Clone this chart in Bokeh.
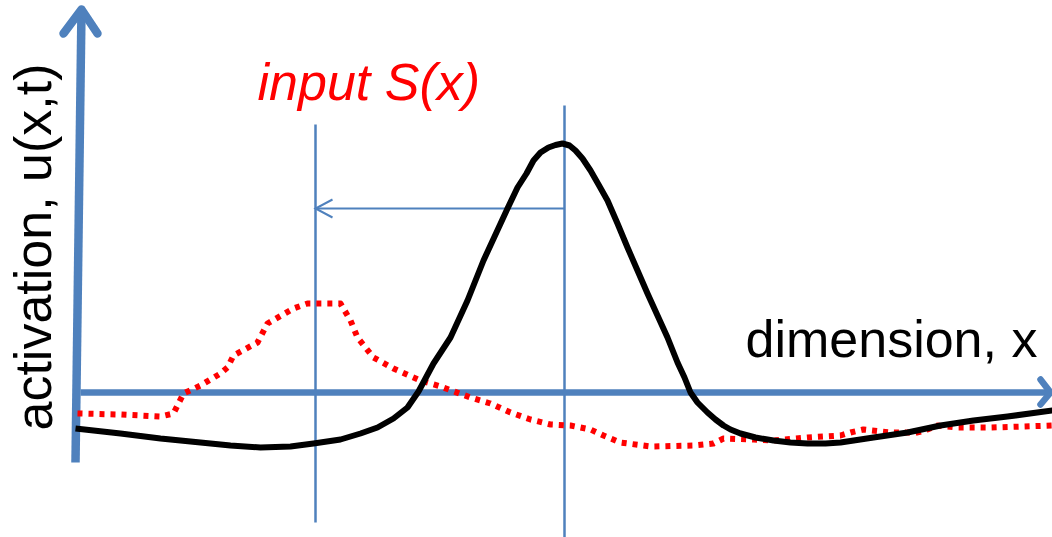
from bokeh.plotting import figure
from bokeh.models import Range1d
from bokeh.core.properties import value
from bokeh.embed import file_html
from bokeh.resources import INLINE

# Field positions along the dimension axis and values (activation axis at 0)
act_x = [75, 120, 160, 200, 230, 260, 290, 313, 340, 360, 377, 393, 407, 418,
         433, 450, 467, 483, 495, 507, 517, 526, 533, 540, 548, 555, 562,
         569, 575, 582, 590, 598, 607, 617, 627, 637, 647, 657, 667, 677,
         684, 690, 697, 707, 715, 723, 730, 740, 755, 773, 790, 807, 825,
         840, 873, 907, 940, 973, 1007, 1052]
act_u = [-37, -42, -47, -51, -54, -56, -55, -52, -48, -42, -36, -27, -16, 0,
         28, 54, 91, 131, 157, 183, 204, 218, 231, 239, 244, 246.5, 248,
         246, 241, 233, 221, 207, 191, 168, 144, 121, 98, 76, 54, 29,
         14, -1, -11, -21, -28, -34, -38, -42, -46, -49, -51, -52, -52,
         -51, -46, -41, -34, -29, -25, -19]

inp_x = [77, 120, 160, 173, 183, 200, 220, 227, 233, 257, 267, 293, 307, 340,
         350, 357, 373, 393, 420, 440, 470, 490, 510, 530, 550, 570, 590, 603,
         620, 650, 693, 713, 723, 753, 773, 807, 840, 850, 863, 890, 917, 927,
         937, 957, 990, 1023, 1052]
inp_s = [-22, -23, -25, -22, -2, 6, 18, 24, 36, 49, 68, 83, 88, 88,
         71, 54, 34, 23, 11, 5, -6, -12, -21, -28, -33, -34, -38, -44,
         -51, -55, -54, -52, -47, -48, -49, -46, -44, -41, -38, -41, -41, -38,
         -34, -36, -36, -35, -34]

# Peak location and the remembered input location
peak_x = 564
input_x = 315
shift_level = 183

BLUE = "#4F81BD"
FONT = value("Liberation Sans")

p = figure(width=1052, height=537, x_range=Range1d(0, 1052), y_range=Range1d(-146, 391),
           output_backend="svg", toolbar_location=None, min_border=0,
           x_axis_type=None, y_axis_type=None)
p.grid.visible = False
p.outline_line_color = None
p.background_fill_color = "white"
p.border_fill_color = "white"

# vertical marker lines
p.line([input_x, input_x], [267, -131], line_color=BLUE, line_width=2.5)
p.line([peak_x, peak_x], [286, -146], line_color=BLUE, line_width=2.5)

# shift arrow from peak back to the input position
p.line([peak_x, input_x], [shift_level, shift_level], line_color=BLUE, line_width=2)
p.line([input_x + 17, input_x, input_x + 17],
       [shift_level + 9, shift_level, shift_level - 9],
       line_color=BLUE, line_width=2, line_join="miter")

# coordinate axes
p.line([75, 81], [-71, 382], line_color=BLUE, line_width=8.5)
p.line([63, 81, 97], [358, 382, 358], line_color=BLUE, line_width=8.5,
       line_join="round", line_cap="round")
p.line([80, 1048], [-1, -1], line_color=BLUE, line_width=6.5)
p.line([1040, 1050, 1040], [12, -1, -13], line_color=BLUE, line_width=6.5,
       line_join="round", line_cap="round")

# input (red dotted) and activation (black)
p.line(inp_x, inp_s, line_color="#FF0000", line_width=6, line_dash="5 6",
       line_join="round")
p.line(act_x, act_u, line_color="black", line_width=6, line_join="round")

# labels
p.text(x=[33], y=[-39], text=["activation, u(x,t)"], angle=1.5708,
       text_font=FONT, text_font_size="52px",
       text_color="black", text_align="left", text_baseline="alphabetic")
p.text(x=[257], y=[310], text=["input S(x)"],
       text_font=FONT, text_font_size="52px",
       text_font_style="italic", text_color="#FF0000",
       text_align="left", text_baseline="alphabetic")
p.text(x=[745], y=[53], text=["dimension, x"],
       text_font=FONT, text_font_size="52px",
       text_color="black", text_align="left", text_baseline="alphabetic")

open("out.html", "w").write(file_html(p, INLINE))
